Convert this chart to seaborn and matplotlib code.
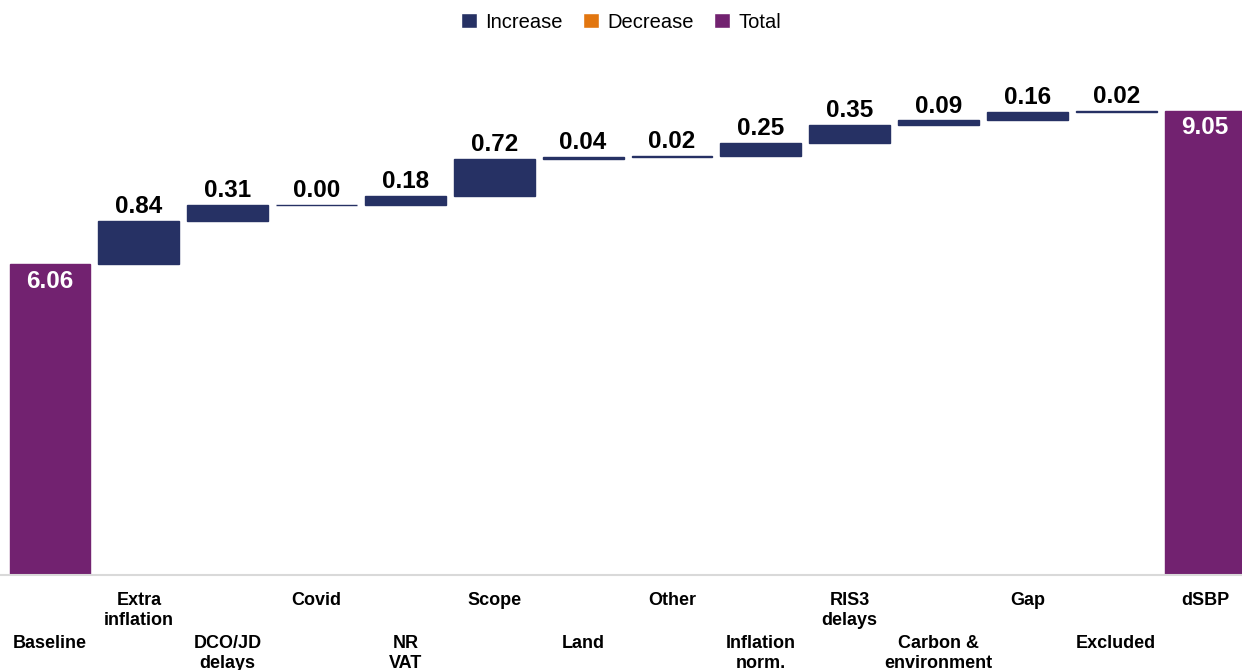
import numpy as np
import pandas as pd
import matplotlib.pyplot as plt
import seaborn as sns
from matplotlib.patches import Patch

# data
categories = ["Baseline", "Extra\ninflation", "DCO/JD\ndelays", "Covid", "NR\nVAT",
              "Scope", "Land", "Other", "Inflation\nnorm.", "RIS3\ndelays",
              "Carbon &\nenvironment", "Gap", "Excluded", "dSBP"]
values = [6.06, 0.84, 0.31, 0.00, 0.18, 0.72, 0.04, 0.02, 0.25, 0.35, 0.09, 0.16, 0.02, 9.05]
kinds = ["Total"] + ["Increase"] * 12 + ["Total"]

colors = {"Increase": "#263164", "Decrease": "#E2760F", "Total": "#722270"}

# waterfall bases
bases = []
running = 0.0
for v, k in zip(values, kinds):
    if k == "Total":
        bases.append(0.0)
        running = v
    else:
        bases.append(running)
        running += v

df = pd.DataFrame({"cat": categories, "value": values, "base": bases, "kind": kinds})

sns.set_theme(style="white")
plt.rcParams['font.family'] = ['Liberation Sans', 'DejaVu Sans']
plt.rcParams['text.color'] = 'black'

fig = plt.figure(figsize=(12.42, 6.70), dpi=100)
ax = fig.add_axes([0, 95 / 670, 1, 513 / 670])

sns.barplot(data=df, x="cat", y="value", bottom=df["base"].values, width=0.91,
            color=colors["Increase"], linewidth=1, ax=ax)
for p, k in zip(ax.patches, kinds):
    p.set_facecolor(colors[k])
    p.set_edgecolor(colors[k])

ax.set_xlim(-0.563, 13.416)
ax.set_ylim(0, 10)

# value labels
for i, (v, b, k) in enumerate(zip(values, bases, kinds)):
    if k == "Total":
        ax.annotate(f"{v:.2f}", (i, v), xytext=(0, -4), textcoords="offset points",
                    ha="center", va="top", color="white", fontsize=17.5, fontweight="bold")
    else:
        ax.annotate(f"{v:.2f}", (i, b + v), xytext=(0, 2), textcoords="offset points",
                    ha="center", va="bottom", color="black", fontsize=17.5, fontweight="bold")

# category labels, staggered in two rows
ax.set_xticks([])
ax.set_xlabel("")
ax.set_ylabel("")
for i, c in enumerate(categories):
    off = -12 if i % 2 else -43
    ax.annotate(c, (i, 0), xytext=(0, off), textcoords="offset points",
                ha="center", va="top", fontsize=13, fontweight="bold", color="black",
                linespacing=1.25, annotation_clip=False)

ax.set_yticks([])
for s in ["top", "right", "left"]:
    ax.spines[s].set_visible(False)
ax.spines["bottom"].set_color("#d9d9d9")
ax.spines["bottom"].set_linewidth(1.5)

handles = [Patch(facecolor=colors[k], label=k) for k in ["Increase", "Decrease", "Total"]]
fig.legend(handles=handles, loc="upper center", bbox_to_anchor=(0.5, 1.008), ncol=3,
           frameon=False, fontsize=14.5, handlelength=0.8, handleheight=0.8,
           handletextpad=0.4, columnspacing=1.0, labelcolor="black")

fig.savefig("out.png", dpi=100)
